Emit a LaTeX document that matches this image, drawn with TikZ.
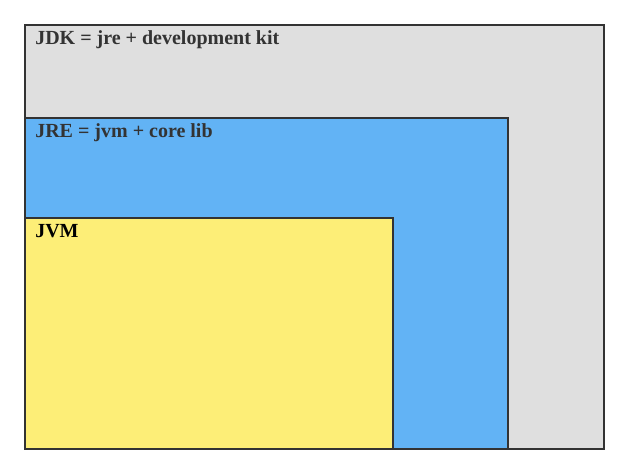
\documentclass[tikz,border=0pt]{standalone}
\usepackage{fontspec}
\setmainfont{Liberation Serif}
\usetikzlibrary{positioning}

\definecolor{jdkgray}{HTML}{DFDFDF}
\definecolor{jreblue}{HTML}{62B3F5}
\definecolor{jvmyellow}{HTML}{FDEE77}
\definecolor{edgegray}{HTML}{333333}

\begin{document}
\begin{tikzpicture}[
    x=0.75pt, y=-0.75pt,
    layer/.style={draw=edgegray, line width=1.5pt, anchor=north west, inner sep=0pt, outer sep=0pt},
    title/.style={font=\bfseries\fontsize{15}{18}\selectfont, anchor=base west, inner sep=0pt, text=edgegray}
]
\useasboundingbox (0,0) rectangle (629,474);

\node[layer, fill=jdkgray, minimum width=579*0.75pt, minimum height=424*0.75pt] (jdk) at (25,25) {};
\node[layer, fill=jreblue, minimum width=483*0.75pt, minimum height=331*0.75pt] (jre) at (25,118) {};
\node[layer, fill=jvmyellow, minimum width=368*0.75pt, minimum height=231*0.75pt] (jvm) at (25,218) {};

\node[title] (jdklbl) at ([xshift=7.5pt, yshift=-14.5pt]jdk.north west) {JDK = jre + development kit};
\node[title] (jrelbl) at ([xshift=7.5pt, yshift=-14.5pt]jre.north west) {JRE = jvm + core lib};
\node[title, text=black] (jvmlbl) at ([xshift=7.5pt, yshift=-14.5pt]jvm.north west) {JVM};
\end{tikzpicture}
\end{document}
